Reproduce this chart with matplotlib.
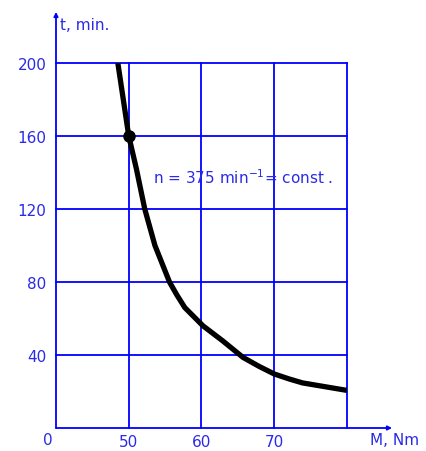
import matplotlib.pyplot as plt

# curve: torque M (Nm) vs time t (min)
torque = [48.5, 50.0, 51.05, 52.2, 53.6, 55.6, 56.6, 57.7,
          60.2, 62.9, 65.7, 67.9, 70.0, 72.1, 73.9, 80.0]
time_min = [200, 160, 142, 120, 100, 80, 73, 66,
            56, 47.8, 38.7, 33.8, 29.6, 26.8, 24.7, 20.6]
marked_point = (50.0, 160)

x_ticks = [50, 60, 70, 80]
y_ticks = [40, 80, 120, 160, 200]

blue = '#0000ff'
label_blue = '#2a2ae8'
fs = 11

fig = plt.figure(figsize=(4.27, 4.52), dpi=100)
ax = fig.add_axes([56 / 427, 1 - 429 / 452, (347 - 56) / 427, (429 - 64) / 452])

ax.set_xlim(40, 80)
ax.set_ylim(0, 200)

# grid lines
for x in x_ticks:
    ax.plot([x, x], [0, 200], color=blue, lw=1.3, zorder=1, clip_on=False)
for y in y_ticks:
    ax.plot([40, 80], [y, y], color=blue, lw=1.3, zorder=1, clip_on=False)

for s in ax.spines.values():
    s.set_visible(False)

# axes with arrows
ax.annotate('', xy=(40, 228), xytext=(40, 0), annotation_clip=False,
            arrowprops=dict(arrowstyle='-|>', color=blue, lw=1.3,
                            mutation_scale=6, shrinkA=0, shrinkB=0))
ax.annotate('', xy=(86.2, 0), xytext=(40, 0), annotation_clip=False,
            arrowprops=dict(arrowstyle='-|>', color=blue, lw=1.3,
                            mutation_scale=6, shrinkA=0, shrinkB=0))

ax.plot(torque, time_min, color='black', lw=3.8, solid_capstyle='butt',
        solid_joinstyle='round', zorder=3)
ax.plot(*marked_point, 'o', color='black', ms=8, zorder=4)

ax.set_xticks(x_ticks[:-1])
ax.set_yticks(y_ticks)
ax.tick_params(length=0, labelsize=fs, labelcolor=label_blue, pad=4)
ax.tick_params(axis='y', pad=7)

ax.text(38.9, -2, '0', color=label_blue, fontsize=fs, ha='center', va='top')
ax.text(86.5, -2, 'M, Nm', color=label_blue, fontsize=fs, ha='center', va='top')
ax.text(40.5, 221, 't, min.', color=label_blue, fontsize=fs, ha='left', va='center')
ax.text(53.4, 138, 'n = 375 min$^{-1}$= const .', color=label_blue, fontsize=fs,
        ha='left', va='center')

fig.savefig('out.png', dpi=100)
